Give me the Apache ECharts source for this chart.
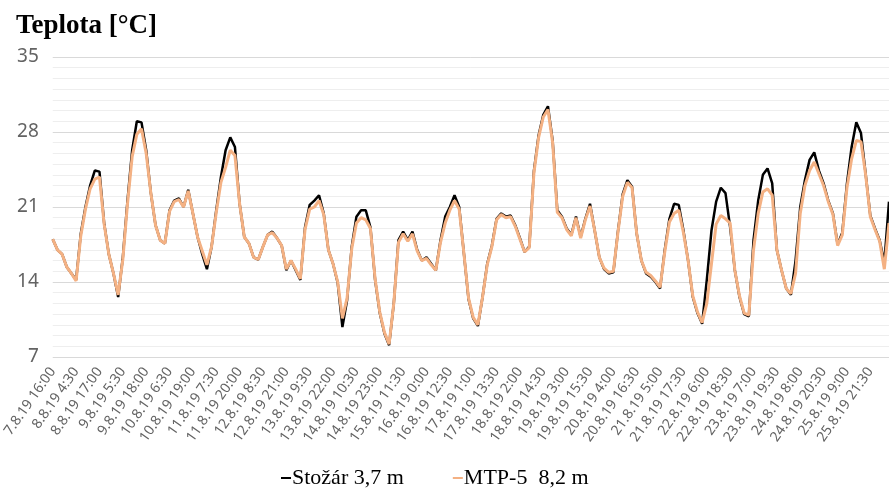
<!DOCTYPE html>
<html><head><meta charset="utf-8">
<script src="https://cdn.jsdelivr.net/npm/echarts@6/dist/echarts.min.js"></script>
<style>html,body{margin:0;padding:0;background:#fff}#c{width:889px;height:492px}</style>
</head><body><div id="c"></div>
<script>
// time step 2.5 h starting 7.8.19 16:00
const startDay = 7, startMinutes = 16 * 60, stepMinutes = 150, pointCount = 180;
const yTicks = [7, 14, 21, 28, 35];
const seriesNames = ['Stožár 3,7 m', 'MTP-5  8,2 m'];

const stozar = [
18.0,17.0,16.6,15.4,14.8,14.2,18.5,21.0,23.0,24.4,
24.3,19.5,16.6,14.8,12.6,16.3,21.6,26.3,29.0,28.9,
26.3,22.3,19.3,17.9,17.6,20.7,21.6,21.8,21.0,22.6,
20.4,18.2,16.6,15.2,17.3,20.7,23.8,26.3,27.5,26.6,
21.3,18.2,17.6,16.3,16.1,17.3,18.4,18.7,18.1,17.4,
15.1,16.0,15.1,14.2,19.1,21.2,21.6,22.1,20.4,17.0,
15.7,13.9,9.8,12.3,17.3,20.1,20.7,20.7,19.1,14.2,
11.1,9.2,8.1,12.0,17.9,18.7,17.9,18.7,17.0,16.0,
16.3,15.7,15.1,17.9,20.1,21.0,22.1,21.0,16.7,12.4,
10.6,9.9,12.6,15.7,17.4,19.9,20.4,20.1,20.2,19.3,
18.1,16.8,17.3,24.4,27.7,29.6,30.4,27.2,20.7,20.1,
19.0,18.4,20.1,18.2,19.9,21.3,18.8,16.3,15.2,14.8,
14.9,18.8,22.2,23.5,22.9,18.5,16.0,14.8,14.5,14.0,
13.4,17.0,19.9,21.3,21.2,18.8,16.0,12.6,11.1,10.1,
14.2,18.8,21.5,22.8,22.3,19.1,15.1,12.6,11.0,10.8,
17.9,21.6,24.0,24.6,23.2,17.0,15.1,13.4,12.8,16.0,
21.0,23.5,25.4,26.1,24.4,23.2,21.6,20.4,17.5,18.6,
23.2,26.6,28.9,27.9,24.1,20.2,19.0,17.9,15.8,21.5
];

const mtp = [
18.0,17.0,16.6,15.4,14.8,14.1,18.3,20.8,22.7,23.6,
23.8,19.4,16.6,14.8,12.8,16.1,21.3,25.7,27.8,28.3,
26.0,22.3,19.3,17.9,17.6,20.6,21.5,21.7,21.0,22.5,
20.4,18.2,16.9,15.6,17.3,20.5,23.3,24.7,26.3,25.8,
21.3,18.2,17.6,16.3,16.1,17.3,18.4,18.6,18.1,17.4,
15.2,16.0,15.2,14.3,18.9,20.8,21.0,21.6,20.3,17.0,
15.7,14.0,10.6,12.5,17.1,19.5,20.0,19.8,19.0,14.3,
11.2,9.3,8.2,12.0,17.7,18.5,17.8,18.5,16.9,16.0,
16.2,15.6,15.1,17.7,19.5,20.7,21.6,20.8,16.7,12.5,
10.7,10.0,12.6,15.6,17.3,19.8,20.3,20.0,20.1,19.2,
18.0,16.8,17.2,24.2,27.5,29.4,30.1,27.0,20.5,20.0,
18.9,18.3,20.0,18.1,19.8,21.1,18.8,16.3,15.3,14.9,
15.0,18.7,22.0,23.3,22.8,18.5,16.0,14.9,14.6,14.1,
13.5,16.8,19.6,20.4,20.7,18.6,16.0,12.7,11.2,10.2,
12.0,15.7,19.4,20.2,19.9,19.5,15.1,12.7,11.1,10.9,
17.0,20.4,22.4,22.7,22.1,17.0,15.1,13.4,12.9,14.8,
20.4,23.0,24.4,25.2,24.1,23.0,21.5,20.3,17.4,18.4,
22.8,25.5,27.2,27.1,24.0,20.1,18.9,17.8,15.2,19.5
];

function fmtCategory(i) {
  const t = startMinutes + i * stepMinutes;
  const day = startDay + Math.floor(t / 1440);
  const m = t % 1440;
  return day + '.8.19 ' + Math.floor(m / 60) + ':' + String(m % 60).padStart(2, '0');
}
const categories = [];
for (let i = 0; i < pointCount; i++) categories.push(fmtCategory(i));

const chart = echarts.init(document.getElementById('c'), null, {renderer: 'canvas'});
chart.setOption({
  animation: false,
  backgroundColor: '#fff',
  title: {
    text: 'Teplota [°C]', left: 11, top: 8,
    textStyle: {fontFamily: 'Liberation Serif', fontWeight: 'bold', fontSize: 27, color: '#000'}
  },
  legend: {
    left: 276, top: 462, itemGap: 49, itemWidth: 10, itemHeight: 2,
    icon: 'rect',
    textStyle: {fontFamily: 'Liberation Serif', fontSize: 22, color: '#000', padding: [0, 0, 0, -4]},
    data: seriesNames
  },
  grid: {left: 50, right: 0, top: 57, bottom: 135},
  xAxis: {
    type: 'category', data: categories, boundaryGap: false,
    axisLine: {show: false}, axisTick: {show: false}, splitLine: {show: false},
    axisLabel: {
      interval: 4, rotate: 55, margin: 12,
      fontFamily: 'Noto Sans', fontSize: 14, color: '#636363'
    }
  },
  yAxis: {
    type: 'value', min: yTicks[0], max: yTicks[yTicks.length - 1], interval: 7,
    axisLine: {show: false}, axisTick: {show: false},
    axisLabel: {margin: 14, fontFamily: 'Noto Sans', fontSize: 19, color: '#636363'},
    splitLine: {show: true, lineStyle: {color: '#d9d9d9', width: 1}},
    minorTick: {show: false, splitNumber: 7},
    minorSplitLine: {show: true, lineStyle: {color: '#eeeeee', width: 1}}
  },
  series: [
    {name: seriesNames[0], type: 'line', data: stozar, showSymbol: false, symbol: 'none',
     lineStyle: {color: '#000000', width: 2.5}, itemStyle: {color: '#000000'}},
    {name: seriesNames[1], type: 'line', data: mtp, showSymbol: false, symbol: 'none',
     lineStyle: {color: '#F4B183', width: 3}, itemStyle: {color: '#F4B183'}}
  ]
});
</script></body></html>
